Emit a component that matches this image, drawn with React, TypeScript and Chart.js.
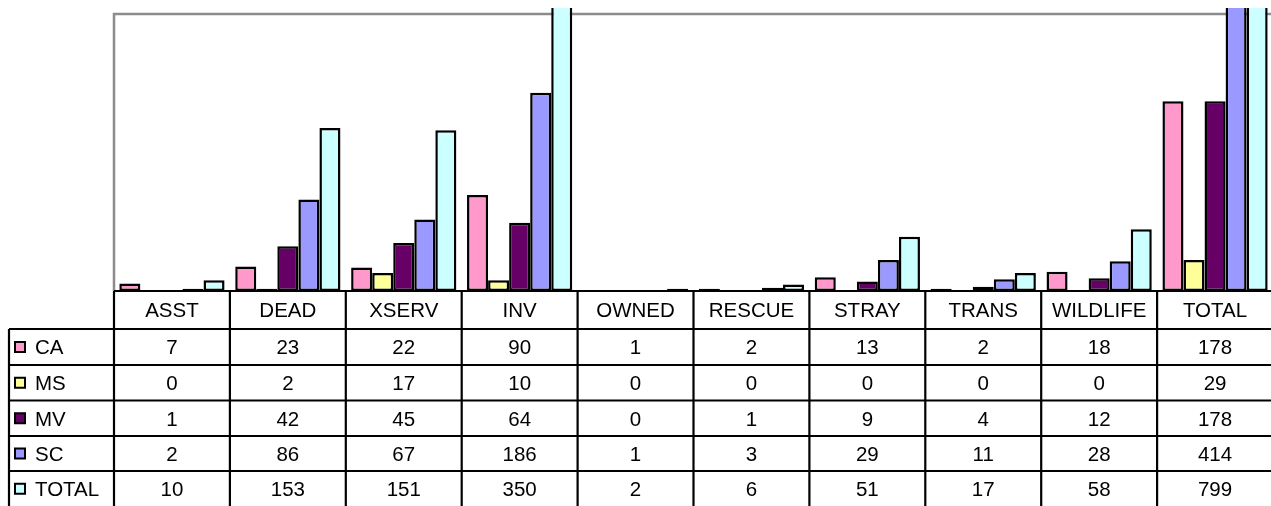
import React, { useEffect, useRef } from "react";
import { Chart, registerables } from "chart.js";

Chart.register(...registerables);

const categories = ["ASST", "DEAD", "XSERV", "INV", "OWNED", "RESCUE", "STRAY", "TRANS", "WILDLIFE", "TOTAL"];
const seriesNames = ["CA", "MS", "MV", "SC", "TOTAL"];
const caValues = [7, 23, 22, 90, 1, 2, 13, 2, 18, 178];
const msValues = [0, 2, 17, 10, 0, 0, 0, 0, 0, 29];
const mvValues = [1, 42, 45, 64, 0, 1, 9, 4, 12, 178];
const scValues = [2, 86, 67, 186, 1, 3, 29, 11, 28, 414];
const totalValues = [10, 153, 151, 350, 2, 6, 51, 17, 58, 799];
const seriesColors = ["#FF99CC", "#FFFF99", "#660066", "#9999FF", "#CCFFFF"];
const yMax = 260;

const FONT = "20.5px 'Liberation Sans', Arial, sans-serif";

const tablePlugin = {
  id: "dataTable",
  beforeDatasetsDraw(chart: any) {
    const { ctx, chartArea } = chart;
    ctx.save();
    ctx.strokeStyle = "#8c8c8c";
    ctx.lineWidth = 2.5;
    ctx.beginPath();
    ctx.moveTo(chartArea.left, chartArea.bottom);
    ctx.lineTo(chartArea.left, chartArea.top);
    ctx.lineTo(chart.width, chartArea.top);
    ctx.stroke();
    ctx.restore();
  },
  afterDatasetsDraw(chart: any) {
    const { ctx, chartArea } = chart;
    const xs = chart.scales.x;
    const n = categories.length;
    const colW = (chartArea.right - chartArea.left) / n;
    const headerTop = chartArea.bottom;
    const rowLines = [329, 365, 400.5, 436, 471, 506.5];
    const leftEdge = 9;
    const rows = [caValues, msValues, mvValues, scValues, totalValues];

    ctx.save();
    ctx.strokeStyle = "#000";
    ctx.lineWidth = 2.2;
    ctx.beginPath();
    ctx.moveTo(chartArea.left, headerTop);
    ctx.lineTo(chart.width, headerTop);
    for (let i = 0; i < rowLines.length - 1; i++) {
      ctx.moveTo(leftEdge, rowLines[i]);
      ctx.lineTo(chart.width, rowLines[i]);
    }
    ctx.moveTo(leftEdge, rowLines[0]);
    ctx.lineTo(leftEdge, chart.height);
    for (let i = 0; i <= n; i++) {
      const x = chartArea.left + i * colW;
      ctx.moveTo(x, headerTop);
      ctx.lineTo(x, chart.height);
    }
    ctx.stroke();

    ctx.fillStyle = "#000";
    ctx.font = FONT;
    ctx.textAlign = "center";
    ctx.textBaseline = "alphabetic";
    const capHalf = 7.3;
    const headerMid = (headerTop + rowLines[0]) / 2;
    categories.forEach((c, i) => {
      ctx.fillText(c, xs.getPixelForValue(i), headerMid + capHalf);
    });
    rows.forEach((vals, r) => {
      const mid = (rowLines[r] + rowLines[r + 1]) / 2;
      vals.forEach((v, i) => {
        ctx.fillText(String(v), xs.getPixelForValue(i), mid + capHalf);
      });
      ctx.fillStyle = seriesColors[r];
      ctx.fillRect(15, mid - 5, 10, 10);
      ctx.strokeStyle = "#000";
      ctx.lineWidth = 2;
      ctx.strokeRect(15, mid - 5, 10, 10);
      ctx.fillStyle = "#000";
      ctx.textAlign = "left";
      ctx.fillText(seriesNames[r], 35, mid + capHalf);
      ctx.textAlign = "center";
    });
    ctx.restore();
  },
};

export default function App() {
  const ref = useRef<HTMLCanvasElement | null>(null);
  useEffect(() => {
    if (!ref.current) return;
    const values = [caValues, msValues, mvValues, scValues, totalValues];
    const chart = new Chart(ref.current, {
      type: "bar",
      data: {
        labels: categories,
        datasets: seriesNames.map((name, i) => ({
          label: name,
          data: values[i],
          backgroundColor: seriesColors[i],
          borderColor: "#000",
          borderWidth: 2.5,
          borderSkipped: false,
          categoryPercentage: 0.908,
          barPercentage: 1,
          clip: { left: 0, top: 6, right: 0, bottom: 0 },
        })),
      },
      options: {
        responsive: false,
        animation: false,
        layout: { padding: { top: 14, left: 114, right: 1, bottom: 215 } },
        scales: {
          x: { display: false },
          y: { display: false, min: 0, max: yMax },
        },
        plugins: { legend: { display: false }, tooltip: { enabled: false } },
      },
      plugins: [tablePlugin],
    } as any);
    return () => chart.destroy();
  }, []);
  return (
    <div style={{ position: "absolute", left: 0, top: 0, width: 1271, height: 506, overflow: "hidden", background: "#fff" }}>
      <canvas ref={ref} width={1274} height={506} style={{ display: "block" }} />
    </div>
  );
}
